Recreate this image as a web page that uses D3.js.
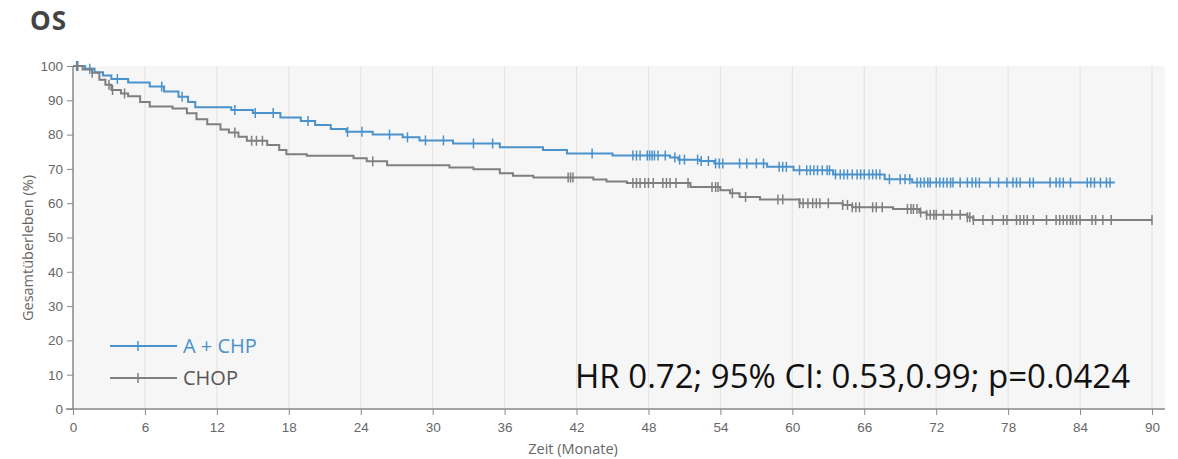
<!doctype html>
<html>
  <head>
    <script src="https://cdnjs.cloudflare.com/ajax/libs/d3/7.8.5/d3.min.js"></script>
  <style>
    body { margin: 0; background: #fff; }
    svg { font-family: "Open Sans", sans-serif; }
    .tick text { fill: #666; font-size: 13.5px; }
  </style>
  </head>
  <body>
    <svg id="chart" width="1178" height="459"></svg>
    <script>
      // step times (months) and survival (%) after each step
      var achpTimes = [0, 1.0, 1.8, 2.5, 3.2, 4.6, 6.4, 7.6, 8.8, 9.6, 10.2, 13.2, 15.0, 17.3, 19.0, 20.2, 21.5, 22.8, 25.0, 27.5, 28.9, 31.7, 35.6, 39.2, 41.2, 45.0, 49.8, 50.5, 52.3, 53.5, 57.9, 60.1, 63.4, 67.7, 70.0, 86.9];
      var achpSurv  = [100, 99.2, 98.2, 97.2, 96.2, 95.2, 94.0, 92.6, 91.0, 89.5, 88.0, 87.2, 86.3, 85.0, 84.0, 82.8, 81.6, 80.8, 80.0, 79.2, 78.3, 77.4, 76.3, 75.5, 74.5, 73.9, 73.3, 72.7, 72.3, 71.6, 70.6, 69.6, 68.4, 67.0, 66.0, 66.0];
      var achpCensor = [0.3, 1.4, 3.7, 7.4, 9.1, 13.5, 15.2, 16.7, 19.6, 22.9, 24.1, 26.4, 27.9, 29.4, 30.9, 33.4, 35.0, 43.3, 46.7, 47.0, 47.3, 47.9, 48.1, 48.3, 48.5, 48.8, 49.4, 50.2, 50.6, 51.0, 52.1, 52.4, 53.0, 53.6, 53.9, 54.2, 55.6, 56.2, 57.0, 57.6, 58.9, 59.2, 59.5, 60.6, 61.2, 61.5, 61.8, 62.1, 62.5, 62.9, 63.1, 63.6, 64.0, 64.3, 64.6, 65.0, 65.4, 65.7, 66.0, 66.4, 66.7, 67.0, 67.3, 68.1, 69.0, 69.4, 69.8, 70.4, 70.7, 71.0, 71.3, 71.5, 72.0, 72.3, 72.6, 72.9, 73.2, 73.4, 74.0, 74.6, 75.0, 75.3, 75.6, 76.5, 77.2, 77.9, 78.4, 78.7, 79.0, 79.8, 80.1, 81.5, 82.0, 82.3, 82.6, 83.2, 84.6, 84.9, 85.2, 85.7, 86.2, 86.5];

      var chopTimes = [0, 0.8, 1.6, 2.2, 2.7, 3.2, 4.0, 4.6, 5.6, 6.4, 8.3, 9.5, 10.3, 11.2, 12.3, 13.0, 13.8, 14.5, 16.2, 17.2, 17.8, 19.5, 23.4, 24.5, 26.2, 31.4, 33.4, 35.6, 36.7, 38.4, 43.4, 44.5, 46.2, 51.5, 54.0, 54.8, 55.6, 57.3, 60.6, 64.2, 65.0, 68.4, 70.6, 71.2, 74.6, 75.1, 90];
      var chopSurv  = [100, 99, 98, 96, 94.5, 93, 92, 91.2, 89.5, 88.2, 87.6, 86.2, 84.5, 83, 81.5, 80.6, 79.4, 78.2, 77, 75.5, 74.3, 73.8, 73.1, 72.2, 71.1, 70.4, 69.9, 68.7, 68, 67.5, 66.9, 66.3, 65.9, 64.7, 63.8, 62.9, 61.8, 61.1, 60.0, 59.5, 58.8, 58.3, 57.3, 56.6, 55.9, 55.1, 55.1];
      var chopCensor = [0.4, 1.6, 3.0, 3.3, 4.3, 13.5, 14.9, 15.3, 15.8, 25.0, 41.3, 41.5, 41.7, 46.7, 47.0, 47.3, 47.7, 48.0, 48.4, 49.2, 49.5, 49.8, 50.3, 51.3, 53.3, 53.6, 53.8, 55.0, 56.1, 58.8, 59.2, 60.6, 60.9, 61.3, 61.7, 62.0, 62.3, 63.0, 64.2, 64.6, 65.0, 65.3, 65.6, 66.7, 67.0, 67.5, 69.6, 69.9, 70.1, 70.4, 70.7, 71.2, 71.5, 71.8, 72.0, 72.6, 73.3, 74.0, 74.6, 74.8, 75.1, 75.9, 76.7, 77.6, 77.9, 78.7, 79.0, 79.3, 79.6, 80.1, 81.2, 82.0, 82.3, 82.6, 82.9, 83.2, 83.4, 83.7, 84.0, 85.0, 85.3, 85.9, 86.6, 90];

      var xTicks = [0, 6, 12, 18, 24, 30, 36, 42, 48, 54, 60, 66, 72, 78, 84, 90];
      var yTicks = [0, 10, 20, 30, 40, 50, 60, 70, 80, 90, 100];
      var seriesNames = ["A + CHP", "CHOP"];
      var seriesColors = ["#4a92cb", "#7f7f7f"];
      var hrText = "HR 0.72; 95% CI: 0.53,0.99; p=0.0424";

      var svg = d3.select("#chart");
      var xScale = d3.scaleLinear().domain([0, 90]).range([73, 1152]);
      var yScale = d3.scaleLinear().domain([0, 100]).range([409, 66]);

      svg.append("rect")
        .attr("x", 73).attr("y", 66)
        .attr("width", 1165 - 73).attr("height", 409 - 66)
        .style("fill", "#f6f6f6");

      svg.selectAll("line.grid")
        .data(xTicks.slice(1))
        .enter()
        .append("line")
          .attr("class", "grid")
          .attr("x1", d => xScale(d)).attr("x2", d => xScale(d))
          .attr("y1", 66).attr("y2", 409)
          .style("stroke", "#e2e2e2");

      var xAxis = d3.axisBottom(xScale).tickValues(xTicks).tickSize(6).tickPadding(7);
      var xg = svg.append("g").attr("transform", "translate(0,409)").call(xAxis);
      xg.select("path.domain").remove();
      xg.append("line").attr("x1", 66).attr("x2", 1165).attr("y1", 0).attr("y2", 0)
        .style("stroke", "#888").style("stroke-width", 1.5);
      xg.selectAll(".tick line").style("stroke", "#888");

      var yAxis = d3.axisLeft(yScale).tickValues(yTicks).tickSize(6).tickPadding(4);
      var yg = svg.append("g").attr("transform", "translate(73,0)").call(yAxis);
      yg.select("path.domain").remove();
      yg.append("line").attr("x1", 0).attr("x2", 0).attr("y1", 66).attr("y2", 409)
        .style("stroke", "#888").style("stroke-width", 1.5);
      yg.selectAll(".tick line").style("stroke", "#888");

      var series = [
        { times: achpTimes, surv: achpSurv, censor: achpCensor, color: seriesColors[0] },
        { times: chopTimes, surv: chopSurv, censor: chopCensor, color: seriesColors[1] }
      ];

      function survAt(s, t) {
        var i = d3.bisectRight(s.times, t) - 1;
        return s.surv[Math.max(0, i)];
      }

      var line = d3.line()
        .x(d => xScale(d[0]))
        .y(d => yScale(d[1]))
        .curve(d3.curveStepAfter);

      series.forEach(function(s) {
        svg.append("path")
          .datum(d3.zip(s.times, s.surv))
          .attr("d", line)
          .style("fill", "none")
          .style("stroke", s.color)
          .style("stroke-width", 2);

        svg.append("g").selectAll("line")
          .data(s.censor)
          .enter()
          .append("line")
            .attr("x1", d => xScale(d)).attr("x2", d => xScale(d))
            .attr("y1", d => yScale(survAt(s, d)) - 5)
            .attr("y2", d => yScale(survAt(s, d)) + 5)
            .style("stroke", s.color)
            .style("stroke-width", 1.5);
      });

      // legend
      var legend = svg.append("g");
      seriesNames.forEach(function(name, i) {
        var ly = 346 + i * 32;
        legend.append("line").attr("x1", 110).attr("x2", 177).attr("y1", ly).attr("y2", ly)
          .style("stroke", seriesColors[i]).style("stroke-width", 2);
        legend.append("line").attr("x1", 138).attr("x2", 138).attr("y1", ly - 5).attr("y2", ly + 5)
          .style("stroke", seriesColors[i]).style("stroke-width", 1.5);
        legend.append("text").attr("x", 183).attr("y", ly + 7)
          .style("font-size", "20px")
          .style("fill", i === 0 ? seriesColors[0] : "#555")
          .text(name);
      });

      svg.append("text")
        .attr("x", 575).attr("y", 388)
        .style("font-size", "33px")
        .style("fill", "#111")
        .text(hrText);

      svg.append("text")
        .attr("x", 30).attr("y", 30)
        .style("font-size", "26px")
        .style("font-weight", "bold")
        .style("letter-spacing", "1px")
        .style("fill", "#444")
        .text("OS");

      svg.append("text")
        .attr("transform", "translate(33,248) rotate(-90)")
        .attr("text-anchor", "middle")
        .style("font-size", "14.5px")
        .style("fill", "#666")
        .text("Gesamtüberleben (%)");

      svg.append("text")
        .attr("x", 573).attr("y", 454)
        .attr("text-anchor", "middle")
        .style("font-size", "14.5px")
        .style("fill", "#666")
        .text("Zeit (Monate)");
    </script>
  </body>
</html>
